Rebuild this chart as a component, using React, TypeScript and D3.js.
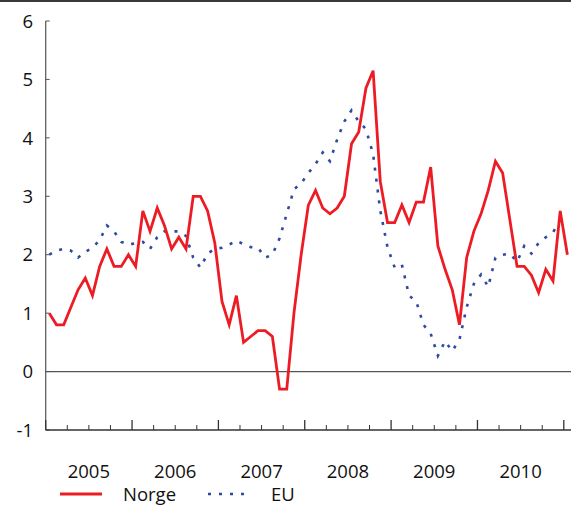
import React from "react";
import * as d3 from "d3";

const years = ["2005", "2006", "2007", "2008", "2009", "2010"];
const yTicks = [-1, 0, 1, 2, 3, 4, 5, 6];

// Monthly values, Jan 2005 .. Jan 2011
const norge = [
  1.0, 0.8, 0.8, 1.1, 1.4, 1.6, 1.3, 1.8, 2.1, 1.8, 1.8, 2.0,
  1.8, 2.75, 2.4, 2.8, 2.5, 2.1, 2.3, 2.1, 3.0, 3.0, 2.75, 2.2,
  1.2, 0.8, 1.3, 0.5, 0.6, 0.7, 0.7, 0.6, -0.3, -0.3, 1.0, 2.0,
  2.85, 3.1, 2.8, 2.7, 2.8, 3.0, 3.9, 4.1, 4.85, 5.15, 3.25, 2.55,
  2.55, 2.85, 2.55, 2.9, 2.9, 3.5, 2.15, 1.75, 1.4, 0.8, 1.95, 2.4,
  2.7, 3.1, 3.6, 3.4, 2.6, 1.8, 1.8, 1.65, 1.35, 1.75, 1.55, 2.75,
  2.0,
];

// Monthly values, Jan 2005 .. Dec 2010
const eu = [
  2.0, 2.07, 2.1, 2.07, 1.95, 2.05, 2.12, 2.25, 2.5, 2.4, 2.22, 2.17,
  2.2, 2.22, 2.1, 2.3, 2.4, 2.4, 2.4, 2.32, 1.95, 1.78, 2.02, 2.1,
  2.12, 2.17, 2.24, 2.18, 2.13, 2.12, 1.95, 2.0, 2.28, 2.7, 3.12, 3.22,
  3.4, 3.55, 3.75, 3.6, 3.97, 4.28, 4.47, 4.28, 4.15, 3.72, 2.75, 2.13,
  1.78, 1.83, 1.3, 1.2, 0.8, 0.65, 0.27, 0.52, 0.35, 0.55, 1.1, 1.5,
  1.66, 1.45, 1.95, 2.0, 2.02, 1.88, 2.15, 2.02, 2.2, 2.3, 2.38, 2.6,
];

const RED = "#ed1c24";
const BLUE = "#2e4a9e";
const FONT = "'Open Sans', 'Noto Sans', sans-serif";

export default function App() {
  const W = 571;
  const H = 506;
  const x0 = 45.7;
  const xRight = 571;
  const x = d3.scaleLinear().domain([0, 72]).range([x0, 563.8]);
  const y = d3.scaleLinear().domain([-1, 6]).range([430, 21]);

  const line = d3
    .line<number>()
    .x((_, i) => x(i + 0.5))
    .y((d) => y(d));

  const quarterTicks = d3.range(0, 73, 3).filter((m) => x(m) <= xRight);

  return (
    <svg
      width={W}
      height={H}
      style={{ position: "absolute", left: 0, top: 0 }}
      fontFamily={FONT}
    >
      <rect width={W} height={H} fill="#fff" />
      {/* top border */}
      <line x1={0} x2={W} y1={1} y2={1} stroke="#3a3a3a" strokeWidth={2} />

      {/* y axis */}
      <line x1={x0} x2={x0} y1={y(6)} y2={y(-1)} stroke="#555" strokeWidth={1.2} />
      {yTicks.map((t) => (
        <g key={t}>
          <line x1={x0} x2={x0 + 4} y1={y(t)} y2={y(t)} stroke="#555" strokeWidth={1} />
          <text
            x={33}
            y={y(t)}
            dy="0.36em"
            textAnchor="end"
            fontSize={18.5}
            fill="#111"
          >
            {t}
          </text>
        </g>
      ))}

      {/* zero line */}
      <line x1={x0} x2={xRight} y1={y(0)} y2={y(0)} stroke="#555" strokeWidth={1.2} />

      {/* x axis */}
      <line x1={x0} x2={xRight} y1={y(-1)} y2={y(-1)} stroke="#333" strokeWidth={1.5} />
      {quarterTicks.map((m) => (
        <line
          key={m}
          x1={x(m)}
          x2={x(m)}
          y1={y(-1)}
          y2={y(-1) - (m % 12 === 0 ? 10 : 5)}
          stroke="#333"
          strokeWidth={m % 12 === 0 ? 1.3 : 1}
        />
      ))}
      {years.map((yr, k) => (
        <text
          key={yr}
          x={x(k * 12 + 6)}
          y={478}
          textAnchor="middle"
          fontSize={18.5}
          fill="#111"
        >
          {yr}
        </text>
      ))}

      {/* series */}
      <path
        d={line(eu) || ""}
        fill="none"
        stroke={BLUE}
        strokeWidth={2.6}
        strokeDasharray="3 8"
      />
      <path
        d={line(norge) || ""}
        fill="none"
        stroke={RED}
        strokeWidth={2.8}
        strokeLinejoin="miter"
      />

      {/* legend */}
      <line x1={60} x2={102} y1={494} y2={494} stroke={RED} strokeWidth={2.8} />
      <text x={123} y={500.5} fontSize={18.5} fill="#111">
        Norge
      </text>
      <line
        x1={208}
        x2={248}
        y1={494}
        y2={494}
        stroke={BLUE}
        strokeWidth={2.6}
        strokeDasharray="3 8"
      />
      <text x={271} y={500.5} fontSize={18.5} fill="#111">
        EU
      </text>
    </svg>
  );
}
